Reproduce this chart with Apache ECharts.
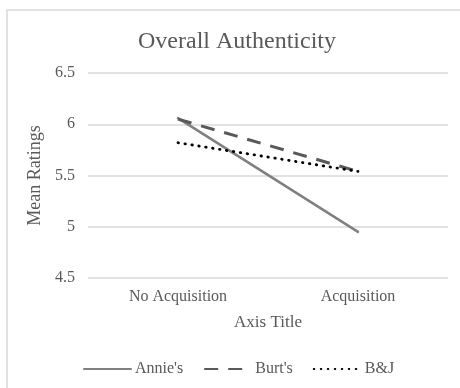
<!DOCTYPE html>
<html>
<head>
<meta charset="utf-8">
<title>Overall Authenticity</title>
<script src="https://cdn.jsdelivr.net/npm/echarts@6/dist/echarts.min.js"></script>
<style>
  html, body { margin: 0; padding: 0; background: #ffffff; }
  #chart { width: 460px; height: 388px; }
</style>
</head>
<body>
<div id="chart"></div>
<script>
// Categories and mean ratings per brand
const categories = ['No Acquisition', 'Acquisition'];
const annies = [6.06, 4.95];
const burts = [6.05, 5.54];
const bj = [5.82, 5.54];
const yTicks = { min: 4.5, max: 6.5, interval: 0.5 };

const serif = '"Liberation Serif", "Times New Roman", serif';
const textGrey = '#595959';

const chart = echarts.init(document.getElementById('chart'), null, { renderer: 'canvas' });

chart.setOption({
  backgroundColor: '#ffffff',
  animation: false,
  graphic: [{
    type: 'rect',
    shape: { x: 7, y: 10, width: 470, height: 400 },
    style: { fill: 'none', stroke: '#d9d9d9', lineWidth: 1.5 },
    silent: true,
    z: -1
  }],
  title: {
    text: 'Overall Authenticity',
    left: 232,
    textAlign: 'center',
    top: 25,
    textStyle: { fontFamily: serif, fontSize: 24, fontWeight: 'normal', color: textGrey }
  },
  grid: { left: 88, right: 12, top: 73, bottom: 110 },
  legend: {
    bottom: 6,
    left: 78,
    itemWidth: 47,
    itemHeight: 12,
    itemGap: 20,
    itemStyle: { opacity: 0 },
    textStyle: { fontFamily: serif, fontSize: 16, color: textGrey, padding: [0, 0, 0, -1] },
    data: ["Annie's", "Burt's", 'B&J']
  },
  xAxis: {
    type: 'category',
    data: categories,
    boundaryGap: true,
    axisLine: { show: false },
    axisTick: { show: false },
    axisLabel: { fontFamily: serif, fontSize: 16, color: textGrey, margin: 11 },
    name: 'Axis Title',
    nameLocation: 'middle',
    nameGap: 36,
    nameTextStyle: { fontFamily: serif, fontSize: 17, color: textGrey }
  },
  yAxis: {
    type: 'value',
    min: yTicks.min,
    max: yTicks.max,
    interval: yTicks.interval,
    axisLine: { show: false },
    axisTick: { show: false },
    axisLabel: { fontFamily: serif, fontSize: 16, color: textGrey, margin: 13 },
    splitLine: { lineStyle: { color: '#d9d9d9', width: 1.5 } },
    name: 'Mean Ratings',
    nameLocation: 'middle',
    nameGap: 37,
    nameTextStyle: { fontFamily: serif, fontSize: 18, color: textGrey }
  },
  series: [
    {
      name: "Annie's",
      type: 'line',
      data: annies,
      symbol: 'none',
      color: '#808080',
      lineStyle: { color: '#808080', width: 2.5, cap: 'round' }
    },
    {
      name: "Burt's",
      type: 'line',
      data: burts,
      symbol: 'none',
      color: '#595959',
      lineStyle: { color: '#595959', width: 3, type: [14, 10] }
    },
    {
      name: 'B&J',
      type: 'line',
      data: bj,
      symbol: 'none',
      color: '#000000',
      lineStyle: { color: '#000000', width: 2.8, type: [0.5, 6.5], cap: 'round' }
    }
  ]
});
</script>
</body>
</html>
